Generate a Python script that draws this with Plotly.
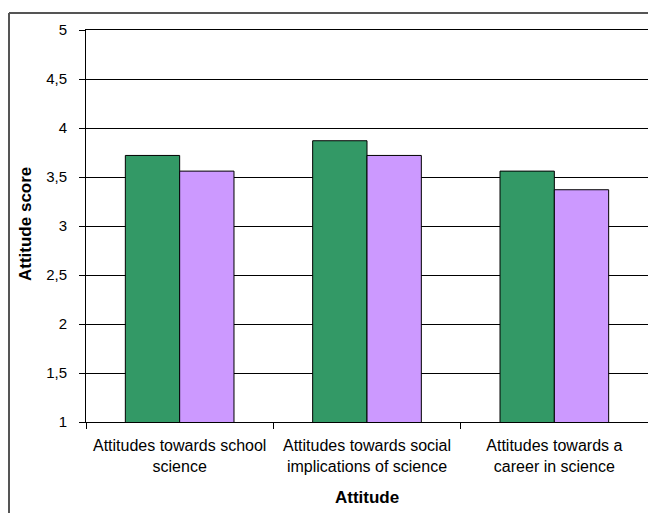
import plotly.graph_objects as go

categories = ["Attitudes towards school<br>science",
              "Attitudes towards social<br>implications of science",
              "Attitudes towards a<br>career in science"]
series_a = [3.72, 3.87, 3.56]
series_b = [3.56, 3.72, 3.37]
y_tick_vals = [1, 1.5, 2, 2.5, 3, 3.5, 4, 4.5, 5]
y_tick_text = ["1", "1,5", "2", "2,5", "3", "3,5", "4", "4,5", "5"]

FONT = "Liberation Sans, Arial, sans-serif"

fig = go.Figure()
fig.add_trace(go.Bar(x=categories, y=series_a, marker=dict(color="#339966", line=dict(color="#000000", width=1)), showlegend=False))
fig.add_trace(go.Bar(x=categories, y=series_b, marker=dict(color="#CC99FF", line=dict(color="#000000", width=1)), showlegend=False))

# figure is placed at (8,8) by the page's body margin
W, H = 648, 505
L, T = 78, 22
pw, ph = 562, 392
R = W - L - pw
B = H - T - ph

def px(x):
    return (x - L) / pw

def py(y):
    return 1 - (y - T) / ph

fig.update_layout(
    width=W, height=H,
    margin=dict(l=L, r=R, t=T, b=B, autoexpand=False),
    paper_bgcolor="white", plot_bgcolor="white",
    barmode="group", bargap=0.42, bargroupgap=0,
    font=dict(family=FONT, size=15, color="#000000"),
    xaxis=dict(
        type="category",
        showline=True, linecolor="#000000", linewidth=1, mirror=True,
        ticks="outside", tickson="boundaries", ticklen=6, tickcolor="#000000",
        showgrid=False,
        tickfont=dict(size=16, family=FONT),
        ticklabelstandoff=9,
    ),
    yaxis=dict(
        range=[1, 5],
        tickvals=y_tick_vals, ticktext=y_tick_text,
        showline=True, linecolor="#000000", linewidth=1, mirror=True,
        ticks="outside", ticklen=6, tickcolor="#000000",
        showgrid=True, gridcolor="#000000", gridwidth=1,
        zeroline=False,
        tickfont=dict(size=15, family=FONT),
        ticklabelstandoff=9,
    ),
    annotations=[
        dict(text="<b>Attitude</b>", xref="paper", yref="paper",
             x=px(359), y=py(489), xanchor="center", yanchor="middle",
             showarrow=False, font=dict(size=17, family=FONT)),
        dict(text="<b>Attitude score</b>", xref="paper", yref="paper",
             x=px(17), y=py(216), xanchor="center", yanchor="middle",
             textangle=-90, showarrow=False, font=dict(size=17, family=FONT)),
    ],
    shapes=[
        dict(type="line", xref="paper", yref="paper",
             x0=px(1), x1=px(1), y0=py(5), y1=py(H + 10),
             line=dict(color="#555555", width=2)),
        dict(type="line", xref="paper", yref="paper",
             x0=px(1), x1=px(W + 10), y0=py(5), y1=py(5),
             line=dict(color="#555555", width=2)),
    ],
)

fig.write_html("out.html")
